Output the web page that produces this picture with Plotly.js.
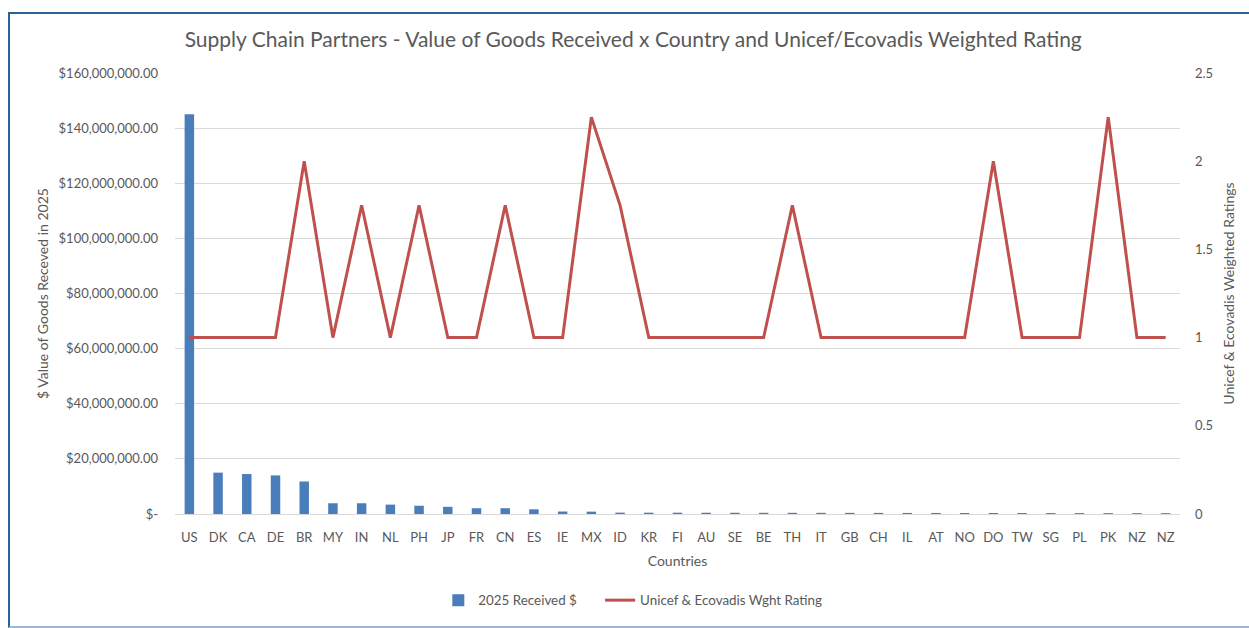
<!DOCTYPE html>
<html>
<head>
<meta charset="utf-8">
<script src="https://cdn.plot.ly/plotly-3.0.1.min.js"></script>
<style>
  html, body { margin: 0; padding: 0; background: #ffffff; overflow: hidden; }
  #chart { position: absolute; left: 0; top: 0; width: 1249px; height: 628px; }
  #frame { position: absolute; left: 8px; top: 12px; width: 1260px; height: 616px; box-sizing: border-box;
           border-top: 2px solid #2a6496; border-left: 2px solid #2a6496; border-bottom: 2px solid #9fb4d8; pointer-events: none; }
</style>
</head>
<body>
<div id="chart"></div>
<div id="frame"></div>
<script>
const countries = ["US","DK","CA","DE","BR","MY","IN","NL","PH","JP","FR","CN","ES","IE","MX","ID","KR","FI","AU","SE","BE","TH","IT","GB","CH","IL","AT","NO","DO","TW","SG","PL","PK","NZ","NZ"];
const received = [145000000, 15000000, 14500000, 14000000, 11800000, 3900000, 3900000, 3400000, 3000000, 2600000, 2100000, 2100000, 1700000, 900000, 850000, 500000, 480000, 470000, 460000, 450000, 440000, 430000, 420000, 410000, 400000, 390000, 380000, 370000, 360000, 350000, 340000, 330000, 320000, 310000, 300000];
const rating = [1, 1, 1, 1, 2, 1, 1.75, 1, 1.75, 1, 1, 1.75, 1, 1, 2.25, 1.75, 1, 1, 1, 1, 1, 1.75, 1, 1, 1, 1, 1, 1, 2, 1, 1, 1, 2.25, 1, 1];
const leftTicks = [0, 20000000, 40000000, 60000000, 80000000, 100000000, 120000000, 140000000, 160000000];
const leftTickText = ["$-", "$20,000,000.00", "$40,000,000.00", "$60,000,000.00", "$80,000,000.00", "$100,000,000.00", "$120,000,000.00", "$140,000,000.00", "$160,000,000.00"];
const rightTicks = [0, 0.5, 1, 1.5, 2, 2.5];
const rightTickText = ["0", "0.5", "1", "1.5", "2", "2.5"];

const idx = countries.map((_, i) => i);
const FONT = "Lato, 'Open Sans', sans-serif";
const GREY = "#595959";

const traces = [
  {
    type: "bar", name: "2025 Received $", x: idx, y: received,
    marker: { color: "#4a7ebb" }, width: 0.33, yaxis: "y", legend: "legend"
  },
  {
    type: "scatter", mode: "lines", name: "Unicef & Ecovadis Wght Rating",
    x: idx, y: rating, line: { color: "#c0504d", width: 3 }, yaxis: "y2", legend: "legend2"
  }
];

const legendBase = {
  orientation: "h", xanchor: "left", y: -0.196, yanchor: "middle",
  font: { size: 13.4, color: GREY }, bgcolor: "rgba(0,0,0,0)"
};

const layout = {
  width: 1249, height: 628,
  margin: { l: 175, r: 69, t: 73, b: 112 },
  paper_bgcolor: "#ffffff", plot_bgcolor: "#ffffff",
  font: { family: FONT, color: GREY, size: 13 },
  title: {
    text: "Supply Chain Partners - Value of Goods Received x Country and Unicef/Ecovadis Weighted Rating",
    font: { family: FONT, size: 21, color: GREY },
    x: 0.507, xref: "container", xanchor: "center",
    y: 1 - 40/628, yref: "container", yanchor: "middle"
  },
  xaxis: {
    range: [-0.5, 34.5], tickmode: "array", tickvals: idx, ticktext: countries,
    showgrid: false, zeroline: false, showline: false, ticks: "",
    tickfont: { size: 13, color: GREY }, ticklabelstandoff: 14,
    title: { text: "Countries", font: { size: 14, color: GREY }, standoff: 12 }
  },
  yaxis: {
    range: [0, 160000000], tickmode: "array", tickvals: leftTicks, ticktext: leftTickText,
    showgrid: true, gridcolor: "#d9d9d9", gridwidth: 1, zeroline: true, zerolinecolor: "#d9d9d9",
    showline: false, ticks: "", ticklabelstandoff: 16,
    tickfont: { size: 13, color: GREY },
    title: { text: "$ Value of Goods Receved in 2025", font: { size: 14, color: GREY }, standoff: 6 }
  },
  yaxis2: {
    range: [0, 2.5], overlaying: "y", side: "right", tickmode: "array", tickvals: rightTicks, ticktext: rightTickText,
    showgrid: false, zeroline: false, showline: false, ticks: "", ticklabelstandoff: 14,
    tickfont: { size: 13, color: GREY },
    title: { text: "Unicef & Ecovadis Weighted Ratings", font: { size: 14, color: GREY }, standoff: 12 }
  },
  showlegend: true,
  legend: Object.assign({}, legendBase, { x: 0.262 }),
  legend2: Object.assign({}, legendBase, { x: 0.423 }),
  bargap: 0.6
};

Plotly.newPlot("chart", traces, layout, { displayModeBar: false, staticPlot: true });
</script>
</body>
</html>
